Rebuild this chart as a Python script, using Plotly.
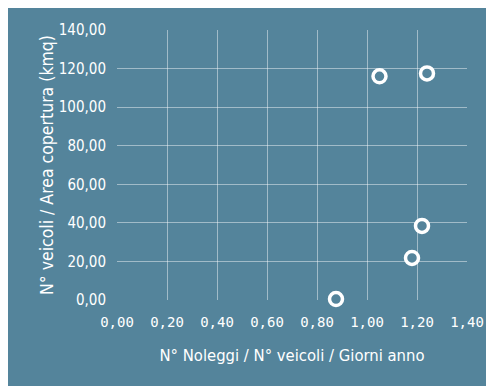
import plotly.graph_objects as go

# Dati
noleggi_per_veicolo_giorno = [1.05, 1.24, 1.22, 1.18, 0.876]
veicoli_per_area = [116.0, 117.5, 38.4, 21.8, 0.5]

BG = "#54849b"
GRID = "rgba(255,255,255,0.45)"

fig = go.Figure()

fig.add_trace(go.Scatter(
    x=noleggi_per_veicolo_giorno,
    y=veicoli_per_area,
    mode="markers",
    marker=dict(symbol="circle", size=13, color=BG,
                line=dict(color="white", width=3.5)),
    showlegend=False,
    cliponaxis=False,
))

fig.update_layout(
    width=494, height=386,
    margin=dict(l=109, r=35, t=22, b=94),
    paper_bgcolor=BG,
    plot_bgcolor=BG,
    separators=",.",
    font=dict(family="Liberation Sans Narrow, DejaVu Sans Condensed, sans-serif",
              color="white", size=14),
    xaxis=dict(
        range=[0, 1.4], dtick=0.2, tickformat=".2f",
        showgrid=True, gridcolor=GRID, gridwidth=1,
        zeroline=False, showline=False, ticks="",
        ticklabelstandoff=12,
        tickfont=dict(family="DejaVu Sans Mono", size=14, color="white"),
        title=dict(text="N° Noleggi / N° veicoli / Giorni anno",
                   font=dict(size=16.5, color="white"), standoff=20),
    ),
    yaxis=dict(
        range=[0, 140], dtick=20, tickformat=".2f",
        showgrid=True, gridcolor=GRID, gridwidth=1,
        zeroline=False, showline=False, ticks="",
        ticklabelstandoff=10,
        tickfont=dict(size=15, color="white"),
        title=dict(text="N° veicoli / Area copertura (kmq)",
                   font=dict(size=17.5, color="white"), standoff=0),
    ),
)

fig.write_html("out.html")
